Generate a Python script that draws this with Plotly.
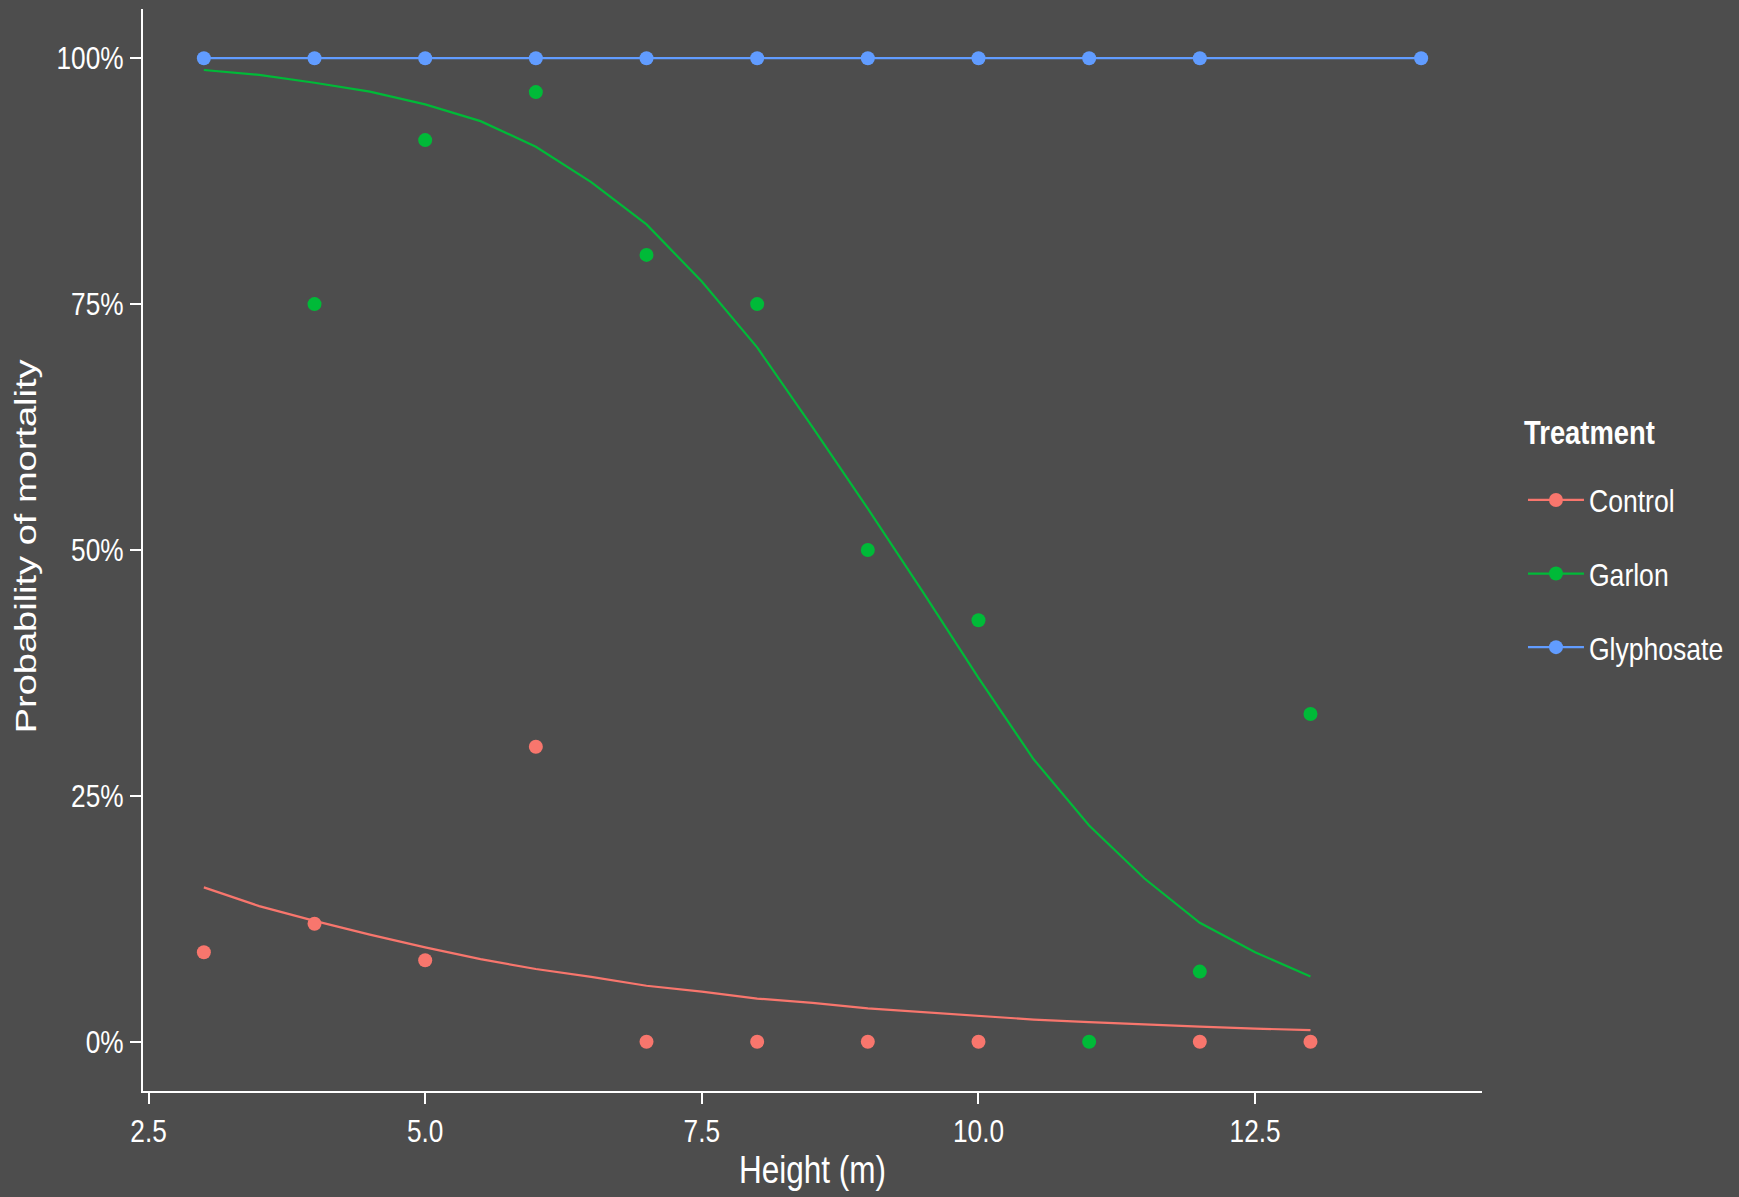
import plotly.graph_objects as go

# ---------------- data ----------------
treatments = ["Control", "Garlon", "Glyphosate"]
colors = ["#F8766D", "#00BA38", "#619CFF"]

# observed mortality proportions by height class
control_x = [3, 4, 5, 6, 7, 8, 9, 10, 12, 13]
control_y = [0.091, 0.12, 0.083, 0.30, 0.0, 0.0, 0.0, 0.0, 0.0, 0.0]

garlon_x = [4, 5, 6, 7, 8, 9, 10, 11, 12, 13]
garlon_y = [0.75, 0.9167, 0.9655, 0.80, 0.75, 0.50, 0.4286, 0.0, 0.0714, 0.3333]

glyphosate_x = [3, 4, 5, 6, 7, 8, 9, 10, 11, 12, 14]
glyphosate_y = [1.0, 1.0, 1.0, 1.0, 1.0, 1.0, 1.0, 1.0, 1.0, 1.0, 1.0]

# fitted (predicted) mortality curves
fit_x = [3, 3.5, 4, 4.5, 5, 5.5, 6, 6.5, 7, 7.5, 8, 8.5, 9, 9.5, 10,
         10.5, 11, 11.5, 12, 12.5, 13]
control_fit = [0.157, 0.138, 0.123, 0.109, 0.096, 0.084, 0.074, 0.066, 0.057,
               0.051, 0.044, 0.0395, 0.034, 0.030, 0.026, 0.0226, 0.020,
               0.0175, 0.0155, 0.0135, 0.0118]
garlon_fit = [0.988, 0.983, 0.975, 0.966, 0.953, 0.936, 0.910, 0.874, 0.831,
              0.773, 0.706, 0.625, 0.542, 0.457, 0.370, 0.287, 0.220, 0.166,
              0.121, 0.091, 0.0665]

x_ticks = [2.5, 5.0, 7.5, 10.0, 12.5]
x_tick_labels = ["2.5", "5.0", "7.5", "10.0", "12.5"]
y_ticks = [0, 0.25, 0.5, 0.75, 1.0]
y_tick_labels = ["0%", "25%", "50%", "75%", "100%"]

x_title = "Height (m)"
y_title = "Probability of mortality"
legend_title = "Treatment"

# ---------------- styling ----------------
BG = "#4D4D4D"
FG = "#FFFFFF"
FONT = "Liberation Sans, Arial, sans-serif"
MSIZE = 14

fig = go.Figure()

points = [(control_x, control_y), (garlon_x, garlon_y), (glyphosate_x, glyphosate_y)]
fits = [(fit_x, control_fit), (fit_x, garlon_fit), (glyphosate_x, glyphosate_y)]

for i, name in enumerate(treatments):
    fx, fy = fits[i]
    fig.add_trace(go.Scatter(x=fx, y=fy, mode="lines", name=name,
                             line=dict(color=colors[i], width=2.2),
                             showlegend=False, hoverinfo="skip"))
    px_, py_ = points[i]
    fig.add_trace(go.Scatter(x=px_, y=py_, mode="markers", name=name,
                             marker=dict(color=colors[i], size=MSIZE, line=dict(width=0)),
                             showlegend=False))
    # legend entry (line + point key, like the reference)
    fig.add_trace(go.Scatter(x=[None], y=[None], mode="lines+markers", name=name,
                             legendgroup=name,
                             line=dict(color=colors[i], width=2.2),
                             marker=dict(color=colors[i], size=MSIZE),
                             showlegend=True))

fig.update_layout(
    width=1739, height=1197,
    paper_bgcolor=BG, plot_bgcolor=BG,
    margin=dict(l=143, r=257, t=9, b=106, pad=0, autoexpand=False),
    font=dict(family=FONT, color=FG, size=32),
    showlegend=True,
    legend=dict(
        x=1.0306, xanchor="left", y=0.5715, yanchor="top",
        bgcolor="rgba(0,0,0,0)",
        font=dict(family=FONT, size=32, color=FG),
        traceorder="grouped", tracegroupgap=29, itemwidth=56,
    ),
    xaxis=dict(
        range=[2.45, 14.55], showgrid=False, zeroline=False,
        showline=True, linecolor=FG, linewidth=2,
        ticks="outside", ticklen=11, tickwidth=2, tickcolor=FG,
        tickvals=x_ticks, ticktext=x_tick_labels,
        tickfont=dict(family=FONT, size=32, color=FG),
        title=dict(text=x_title, font=dict(family=FONT, size=38, color=FG),
                   standoff=8),
    ),
    yaxis=dict(
        range=[-0.05, 1.05], showgrid=False, zeroline=False,
        showline=True, linecolor=FG, linewidth=2,
        ticks="outside", ticklen=11, tickwidth=2, tickcolor=FG,
        tickvals=y_ticks, ticktext=y_tick_labels,
        tickfont=dict(family=FONT, size=32, color=FG),
    ),
    annotations=[
        dict(text=y_title, xref="paper", yref="paper",
             x=-0.0877, y=0.503, xanchor="center", yanchor="middle",
             textangle=-90, showarrow=False, name="ytitle",
             font=dict(family=FONT, size=38, color=FG)),
        dict(text="<b>" + legend_title + "</b>", xref="paper", yref="paper",
             x=1.0296, y=0.6086, xanchor="left", yanchor="middle",
             showarrow=False, name="legtitle",
             font=dict(family=FONT, size=33, color=FG)),
    ],
)

# The reference's text is horizontally condensed; squeeze the rendered text
# glyphs (text stays real text) around their anchor points.
post_js = """
document.body.style.margin='0';document.body.style.overflow='hidden';
function sq(sel, s, mode){
  document.querySelectorAll(sel).forEach(function(el){
    var b = el.getBBox();
    var ax = mode==='l' ? b.x : (mode==='r' ? b.x + b.width : b.x + b.width/2);
    var t = el.getAttribute('transform') || '';
    el.setAttribute('transform', t + ' translate(' + ax + ',0) scale(' + s + ',1) translate(' + (-ax) + ',0)');
  });
}
function sqy(el, s){
  var b = el.getBBox();
  var ay = b.y + b.height/2;
  var t = el.getAttribute('transform') || '';
  el.setAttribute('transform', t + ' translate(0,' + ay + ') scale(1,' + s + ') translate(0,' + (-ay) + ')');
}
sq('.xtick text', 0.82, 'c');
sq('.ytick text', 0.82, 'r');
sq('.g-xtitle text', 0.83, 'c');
sq('.legendtext', 0.83, 'l');
var anns = document.querySelectorAll('.annotation-text');
if (anns.length > 0) { sqy(anns[0], 0.8); }
if (anns.length > 1) {
  var el = anns[1]; var b = el.getBBox(); var ax = b.x;
  var t = el.getAttribute('transform') || '';
  el.setAttribute('transform', t + ' translate(' + ax + ',0) scale(0.83,1) translate(' + (-ax) + ',0)');
}
"""

fig.write_html("out.html", config={"displayModeBar": False}, post_script=post_js)
